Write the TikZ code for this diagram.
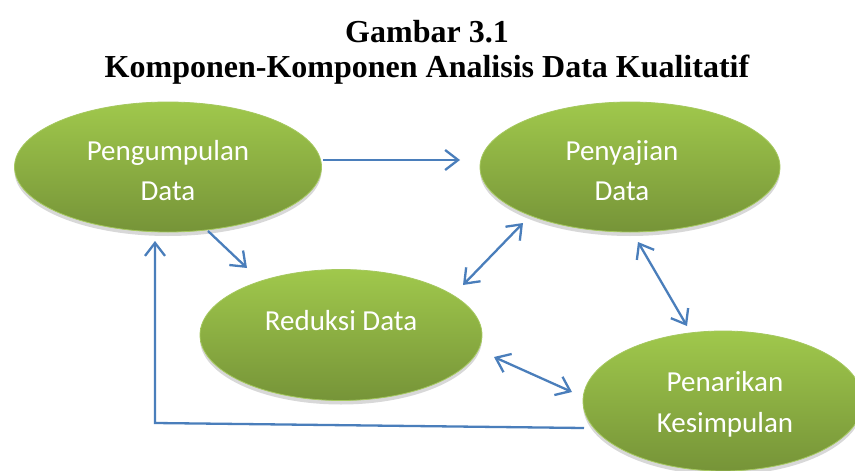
\documentclass[tikz,border=0pt]{standalone}
\usepackage{fontspec}
\setmainfont{Carlito}
\newfontfamily\titlefont{Liberation Serif}
\usetikzlibrary{arrows.meta,shadows,shapes.geometric}
\definecolor{gtop}{RGB}{160,200,76}
\definecolor{gbot}{RGB}{118,148,56}
\definecolor{gline}{RGB}{165,200,95}
\definecolor{ablue}{RGB}{74,126,187}
\tikzset{
  bubble/.style={ellipse, inner sep=0pt, top color=gtop, bottom color=gbot, draw=gline, line width=0.8pt,
    drop shadow={shadow xshift=0pt, shadow yshift=-4pt, opacity=0.25, fill=black!60}},
  ltext/.style={text=white, font=\fontsize{29}{40}\selectfont, anchor=base, inner sep=0pt},
  ttext/.style={font=\titlefont\bfseries\fontsize{32}{36}\selectfont, anchor=base, inner sep=0pt},
  conn/.style={draw=ablue, line width=2.3pt},
  tipend/.style={-{Straight Barb[length=13pt,width=20pt]}},
  tipboth/.style={{Straight Barb[length=13pt,width=20pt]}-{Straight Barb[length=13pt,width=20pt]}}
}
\begin{document}
\begin{tikzpicture}[x=1pt,y=-1pt]
\useasboundingbox (0,0) rectangle (855,471);
\clip (0,0) rectangle (855,471);
\fill[white] (0,0) rectangle (855,471);
% title
\node[ttext] (t1) at (427,42) {Gambar 3.1};
\node[ttext] (t2) at (427,77) {Komponen-Komponen Analisis Data Kualitatif};
% ellipses
\node[bubble, minimum width=307pt, minimum height=130pt] (peng) at (168,167) {};
\node[bubble, minimum width=300pt, minimum height=130pt] (peny) at (630,167) {};
\node[bubble, minimum width=282pt, minimum height=131pt] (red) at (341,335) {};
\node[bubble, minimum width=280pt, minimum height=140pt] (pen) at (723,401) {};
% texts
\node[ltext] (peng1) at (168,160) {Pengumpulan};
\node[ltext] (peng2) at (168,200) {Data};
\node[ltext] (peny1) at (622,160) {Penyajian};
\node[ltext] (peny2) at (622,200) {Data};
\node[ltext] (red1) at (341,330) {Reduksi Data};
\node[ltext] (pen1) at (725,391) {Penarikan};
\node[ltext] (pen2) at (725,432) {Kesimpulan};
% connector endpoints
\coordinate (a1) at (323,160);
\coordinate (a2) at (460,160);
\coordinate (b1) at (208,231);
\coordinate (b2) at (247,268);
\coordinate (c1) at (463,285);
\coordinate (c2) at (523,223);
\coordinate (d1) at (638,242);
\coordinate (d2) at (687,326);
\coordinate (e1) at (494,357);
\coordinate (e2) at (572,392);
\coordinate (f1) at (584,428);
\coordinate (fc) at (155,423);
\coordinate (f2) at (155,241);
% connectors
\draw[conn, tipend] (a1) -- (a2);
\draw[conn, tipend] (b1) -- (b2);
\draw[conn, tipboth] (c1) -- (c2);
\draw[conn, tipboth] (d1) -- (d2);
\draw[conn, tipboth] (e1) -- (e2);
\draw[conn, tipend] (f1) -- (fc) -- (f2);
\end{tikzpicture}
\end{document}
